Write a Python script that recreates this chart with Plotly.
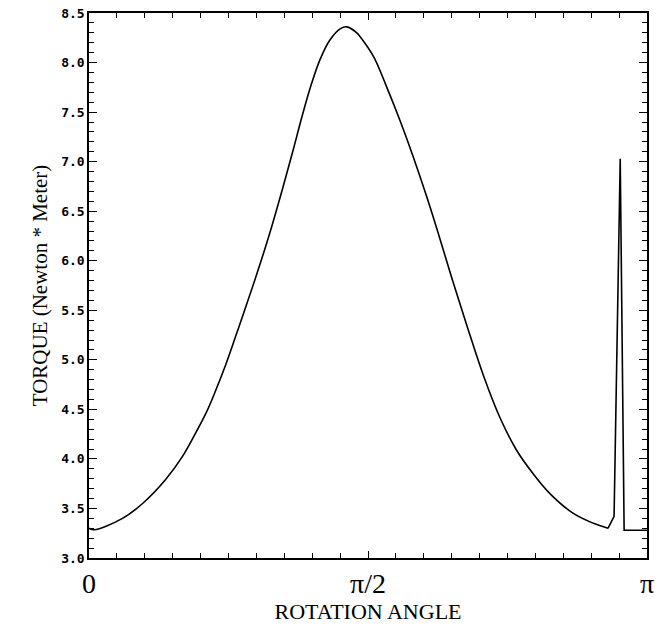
import numpy as np
import plotly.graph_objects as go

# rotation angle as a fraction of pi (smooth part)
curve_frac = [0.0, 0.009, 0.060, 0.096, 0.137, 0.167, 0.191, 0.212, 0.227, 0.245,
              0.263, 0.274, 0.301, 0.324, 0.348, 0.366, 0.381, 0.399, 0.414, 0.432,
              0.450, 0.462, 0.480, 0.486, 0.510, 0.533, 0.557, 0.581, 0.605, 0.629,
              0.651, 0.677, 0.707, 0.737, 0.766, 0.796, 0.826, 0.868, 0.904, 0.930]
curve_torque = [3.30, 3.285, 3.40, 3.55, 3.79, 4.02, 4.26, 4.49, 4.69, 4.95,
                5.24, 5.42, 5.87, 6.28, 6.75, 7.12, 7.44, 7.79, 8.03, 8.23,
                8.34, 8.36, 8.30, 8.26, 8.06, 7.76, 7.42, 7.05, 6.65, 6.22,
                5.81, 5.35, 4.84, 4.41, 4.09, 3.85, 3.65, 3.45, 3.35, 3.30]

# the sharp spike near pi
spike_frac = [0.930, 0.941, 0.952, 0.959, 1.0]
spike_torque = [3.30, 3.42, 7.03, 3.28, 3.28]

x_tick_frac = [0, 0.5, 1.0]
x_tick_text = ["0", "π/2", "π"]

fig = go.Figure()
fig.add_trace(
    go.Scatter(
        x=[f * np.pi for f in curve_frac],
        y=curve_torque,
        mode="lines",
        line={"color": "black", "width": 1.6, "shape": "spline", "smoothing": 1.0},
        showlegend=False,
    )
)
fig.add_trace(
    go.Scatter(
        x=[f * np.pi for f in spike_frac],
        y=spike_torque,
        mode="lines",
        line={"color": "black", "width": 1.6},
        showlegend=False,
    )
)

serif = "Liberation Serif, Times New Roman, serif"

fig.update_layout(
    width=662,
    height=625,
    paper_bgcolor="white",
    plot_bgcolor="white",
    margin={"l": 89, "r": 15, "t": 13, "b": 67},
)

fig.update_xaxes(
    range=[0, np.pi],
    automargin=False,
    tickmode="array",
    tickvals=[f * np.pi for f in x_tick_frac],
    ticktext=x_tick_text,
    tickfont={"family": serif, "size": 28, "color": "black"},
    ticks="inside",
    ticklen=7,
    tickwidth=1.2,
    tickcolor="black",
    showline=True,
    linecolor="black",
    linewidth=1.5,
    mirror="ticks",
    showgrid=False,
    zeroline=False,
    minor={"tickvals": [k * np.pi / 20 for k in range(21)], "ticks": "inside",
           "ticklen": 5, "tickwidth": 1, "tickcolor": "black", "showgrid": False},
    title={"text": "ROTATION ANGLE", "font": {"family": serif, "size": 22, "color": "black"},
           "standoff": 4},
)
fig.update_yaxes(
    range=[3.0, 8.5],
    automargin=False,
    dtick=0.5,
    tick0=3.0,
    tickformat=".1f",
    tickfont={"family": "DejaVu Sans Mono, monospace", "size": 13, "color": "black",
              "weight": "bold"},
    ticks="inside",
    ticklen=8,
    tickwidth=1.2,
    tickcolor="black",
    showline=True,
    linecolor="black",
    linewidth=1.5,
    mirror="ticks",
    showgrid=False,
    zeroline=False,
    minor={"dtick": 0.1, "ticks": "inside", "ticklen": 5, "tickwidth": 1,
           "tickcolor": "black", "showgrid": False},
    title={"text": "TORQUE (Newton * Meter)", "font": {"family": serif, "size": 21, "color": "black"},
           "standoff": 8},
)

fig.write_html(
    "out.html",
    config={"displayModeBar": False},
    post_script="document.body.style.margin='0';",
)
